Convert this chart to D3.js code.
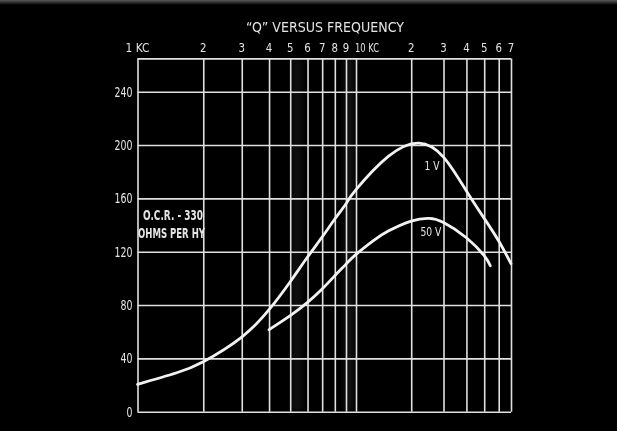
<!DOCTYPE html>
<html>
<head>
<meta charset="utf-8">
<script src="https://cdn.jsdelivr.net/npm/d3@7"></script>
<style>
  html, body { margin: 0; padding: 0; background: #000; }
  svg { display: block; }
  text { font-family: "DejaVu Sans Condensed", "DejaVu Sans", sans-serif; fill: #e4e4e4; }
</style>
</head>
<body>
<svg id="chart" width="617" height="431"></svg>
<script>
// Chart text
const title = "\u201CQ\u201D VERSUS FREQUENCY";
const noteLines = ["O.C.R. - 330", "OHMS PER HY"];
const seriesLabels = ["1 V", "50 V"];

// Frequency axis (KC), log scale
const freqTicks = [1, 2, 3, 4, 5, 6, 7, 8, 9, 10, 20, 30, 40, 50, 60, 70];
const freqTickLabels = ["1 KC", "2", "3", "4", "5", "6", "7", "8", "9", "10 KC", "2", "3", "4", "5", "6", "7"];

// Q axis
const qTicks = [0, 40, 80, 120, 160, 200, 240];
const qMax = 265;

// Q at 1 V
const freq1V = [1, 1.5, 2, 3, 4, 5, 6, 7, 8, 9, 10, 15, 22, 30, 40, 50, 60, 70];
const q1V    = [20.5, 29, 37.5, 56, 76.5, 97.5, 116, 131, 144.5, 156, 166.5, 191.5, 201.5, 191, 165.5, 145, 128, 111];

// Q at 50 V
const freq50V = [4, 5, 6, 7, 8, 9, 10, 12.5, 15, 20, 25, 30, 40, 50, 54];
const q50V    = [61.5, 72, 82, 92, 102, 110.7, 118, 128.5, 135.5, 143, 145, 142, 130.5, 117, 109.5];

// Where each curve label sits (frequency, Q)
const labelFreq = [26, 25.6];
const labelQ = [184, 135];

const svg = d3.select("#chart");

const plotLeft = 137.5, plotRight = 511, decadeEnd = 356;
const x = d3.scaleLog().domain([1, 10, 70]).range([plotLeft, decadeEnd, plotRight]);
const y = d3.scaleLinear().domain([0, qMax]).range([411.7, 58.4]);

const gridColor = "#e0e0e0";

// soft streaks in the print
const defs = svg.append("defs");
defs.append("filter").attr("id", "soft")
  .attr("x", "-50%").attr("width", "200%")
  .append("feGaussianBlur").attr("stdDeviation", 3);
defs.append("linearGradient").attr("id", "edge").attr("x1", 0).attr("x2", 0).attr("y1", 0).attr("y2", 1)
  .selectAll("stop").data([["0%", "#5a5a5a"], ["100%", "#000"]]).join("stop")
  .attr("offset", d => d[0]).attr("stop-color", d => d[1]);
svg.append("rect").attr("x", 0).attr("y", 0).attr("width", 617).attr("height", 5).attr("fill", "url(#edge)");

svg.append("g").attr("filter", "url(#soft)").selectAll("rect")
  .data([[5.15, 5.55], [8.9, 9.7]])
  .join("rect")
  .attr("x", d => x(d[0]))
  .attr("width", d => x(d[1]) - x(d[0]))
  .attr("y", y(qMax))
  .attr("height", y(0) - y(qMax))
  .attr("fill", "#fff")
  .attr("opacity", 0.08);

// vertical grid lines
const gx = svg.append("g")
  .attr("transform", `translate(0,${y(0)})`)
  .call(d3.axisBottom(x).tickValues(freqTicks).tickFormat("").tickSize(-(y(0) - y(qMax))));
gx.select(".domain").remove();
gx.selectAll("line").attr("stroke", gridColor).attr("stroke-width", 1.6);

// horizontal grid lines
const gy = svg.append("g")
  .attr("transform", `translate(${x(1)},0)`)
  .call(d3.axisLeft(y).tickValues(qTicks.concat([qMax])).tickFormat("").tickSize(-(x(70) - x(1))));
gy.select(".domain").remove();
gy.selectAll("line").attr("stroke", gridColor).attr("stroke-width", 1.6);

// Q labels
const ly = svg.append("g")
  .attr("transform", `translate(${x(1) - 5},0)`)
  .call(d3.axisLeft(y).tickValues(qTicks).tickSize(0).tickPadding(0).tickFormat(d3.format("d")));
ly.select(".domain").remove();
ly.selectAll("text")
  .style("font-size", "13.5px")
  .attr("fill", "#d6d6d6")
  .attr("textLength", d => String(d).length * 6)
  .attr("lengthAdjust", "spacingAndGlyphs");

// frequency labels along the top
svg.append("g").selectAll("text")
  .data(freqTicks)
  .join("text")
  .attr("x", (d, i) => freqTickLabels[i] === "10 KC" ? x(d) - 1 : x(d))
  .attr("y", 52)
  .attr("text-anchor", (d, i) => freqTickLabels[i] === "10 KC" ? "start" : "middle")
  .style("font-size", "13px")
  .attr("textLength", (d, i) => freqTickLabels[i].length > 1 ? 24 : 6.5)
  .attr("lengthAdjust", "spacingAndGlyphs")
  .text((d, i) => freqTickLabels[i]);

// title
svg.append("text")
  .attr("x", 325)
  .attr("y", 32)
  .attr("text-anchor", "middle")
  .style("font-size", "14.5px")
  .attr("textLength", 158)
  .attr("lengthAdjust", "spacingAndGlyphs")
  .text(title);

// note box
svg.append("g").selectAll("text")
  .data(noteLines)
  .join("text")
  .attr("x", (d, i) => i === 0 ? 173 : 171.5)
  .attr("y", (d, i) => y(143.5) + i * 18)
  .attr("text-anchor", "middle")
  .style("font-size", "14px")
  .style("font-weight", "bold")
  .attr("textLength", (d, i) => i === 0 ? 60 : 67)
  .attr("lengthAdjust", "spacingAndGlyphs")
  .text(d => d);

// curves
const line = d3.line()
  .x(d => x(d[0]))
  .y(d => y(d[1]))
  .curve(d3.curveNatural);

const series = [d3.zip(freq1V, q1V), d3.zip(freq50V, q50V)];
svg.append("g").selectAll("path")
  .data(series)
  .join("path")
  .attr("d", line)
  .attr("fill", "none")
  .attr("stroke", "#f2f2f2")
  .attr("stroke-width", 2.8)
  .attr("stroke-linecap", "round");

// curve labels
svg.append("g").selectAll("text")
  .data(seriesLabels)
  .join("text")
  .attr("x", (d, i) => x(labelFreq[i]))
  .attr("y", (d, i) => y(labelQ[i]))
  .attr("dy", "0.35em")
  .attr("text-anchor", "middle")
  .style("font-size", "11.5px")
  .attr("fill", "#cfcfcf")
  .attr("textLength", (d, i) => i === 0 ? 15 : 21)
  .attr("lengthAdjust", "spacingAndGlyphs")
  .text(d => d);
</script>
</body>
</html>
